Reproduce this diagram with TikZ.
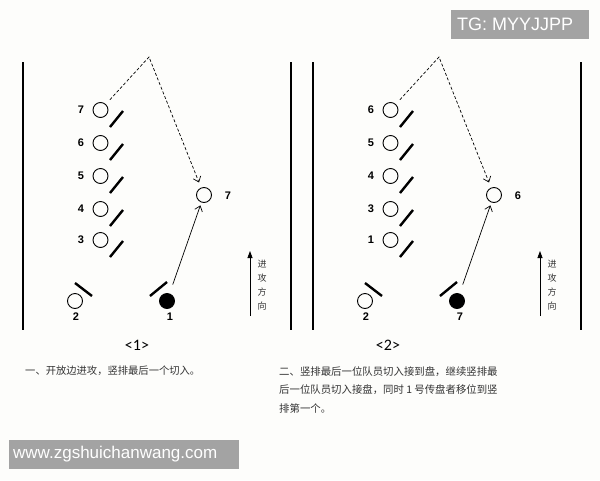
\documentclass[tikz,border=0pt]{standalone}
\usepackage{fontspec}
\setmainfont{Liberation Sans}
\newfontfamily\cjk{Noto Sans CJK SC}
\newfontfamily\carl{Carlito}
\usetikzlibrary{arrows.meta}
\definecolor{bgc}{HTML}{FDFDFB}
\definecolor{wmgray}{HTML}{A3A3A3}
\definecolor{captc}{HTML}{333333}
\tikzset{
  player/.style={circle,draw,line width=0.9pt,minimum size=15pt,inner sep=0pt},
  ballp/.style={player,fill=black},
  num/.style={font=\fontsize{11}{13}\selectfont\bfseries,inner sep=0pt},
  guard/.style={line width=2.4pt},
  sideline/.style={line width=1.8pt},
  run/.style={-{Straight Barb[length=5pt,width=8pt]},line width=0.7pt},
  cut/.style={run,dash pattern=on 3pt off 2pt},
  dirarrow/.style={-{Triangle[length=7pt,width=5pt]},line width=0.8pt},
  dirtext/.style={font=\cjk\fontsize{9}{14}\selectfont,align=center,inner sep=0pt,text=black!80},
}
% #1 prefix, #2-#6 column labels (top to bottom), #7 label of receiver, #8 label of thrower
\newcommand\drawpanel[8]{%
  \draw[sideline] (23,62) -- (23,330);
  \draw[sideline] (291,62) -- (291,330);
  \node[player] (#1c1) at (100.5,110) {};
  \node[player] (#1c2) at (100.5,143) {};
  \node[player] (#1c3) at (100.5,176) {};
  \node[player] (#1c4) at (100.5,209) {};
  \node[player] (#1c5) at (100.5,240) {};
  \node[num] (#1l1) at (81,110) {#2};
  \node[num] (#1l2) at (81,143) {#3};
  \node[num] (#1l3) at (81,176) {#4};
  \node[num] (#1l4) at (81,209) {#5};
  \node[num] (#1l5) at (81,240) {#6};
  \foreach \k in {1,...,5}{\draw[guard] ([shift={(9.5,17)}]#1c\k.center) -- ++(13,-16);}
  \node[player] (#1two) at (75,301) {};
  \draw[guard] ([shift={(0,-18)}]#1two.center) -- ++(17,13);
  \node[num] (#1twol) at (76,317) {2};
  \node[ballp] (#1ball) at (167,301) {};
  \draw[guard] ([shift={(-17,-5)}]#1ball.center) -- ++(17,-14);
  \node[num] (#1balll) at (170,317) {#8};
  \node[player] (#1rcv) at (204,195) {};
  \node[num] (#1rcvl) at (228,196) {#7};
  \coordinate (#1apex) at (149,57);
  \draw[run,shorten <=9.5pt,shorten >=3pt] (#1ball) -- (#1rcv);
  \draw[cut,shorten <=6pt,shorten >=5.5pt] (#1c1) -- (#1apex) -- (#1rcv);
  \coordinate (#1da) at (250,316);
  \coordinate (#1db) at (250,251);
  \draw[dirarrow] (#1da) -- (#1db);
  \node[dirtext,anchor=north] (#1dt) at (262,260) {进\\攻\\方\\向};
}
\begin{document}
\begin{tikzpicture}[x=1pt,y=-1pt]
  \fill[bgc] (0,0) rectangle (600,480);
  \useasboundingbox (0,0) rectangle (600,480);
  \drawpanel{a}{7}{6}{5}{4}{3}{7}{1}
  \begin{scope}[xshift=290pt]
    \drawpanel{b}{6}{5}{4}{3}{1}{6}{7}
  \end{scope}
  \node[font=\carl\fontsize{16}{18}\selectfont] (cap1) at (137,345) {<1>};
  \node[font=\carl\fontsize{16}{18}\selectfont] (cap2) at (388,345) {<2>};
  \node[font=\cjk\fontsize{10.3}{18.5}\selectfont,text=captc,anchor=north west,inner sep=0pt,align=left] (txt1) at (25,366) {一、开放边进攻，竖排最后一个切入。};
  \node[font=\cjk\fontsize{10.4}{18.5}\selectfont,text=captc,anchor=north west,inner sep=0pt,align=left] (txt2) at (279,366) {二、竖排最后一位队员切入接到盘，继续竖排最\\后一位队员切入接盘，同时 1 号传盘者移位到竖\\排第一个。};
  \fill[wmgray] (451,10) rectangle (589,39);
  \node[text=white,font=\fontsize{18}{20}\selectfont,anchor=west,inner sep=0pt] (tg) at (457,24.5) {TG: MYYJJPP};
  \fill[wmgray] (9,440) rectangle (239,469);
  \node[text=white,font=\fontsize{17}{20}\selectfont,anchor=west,inner sep=0pt] (web) at (13,454.5) {www.zgshuichanwang.com};
\end{tikzpicture}
\end{document}
